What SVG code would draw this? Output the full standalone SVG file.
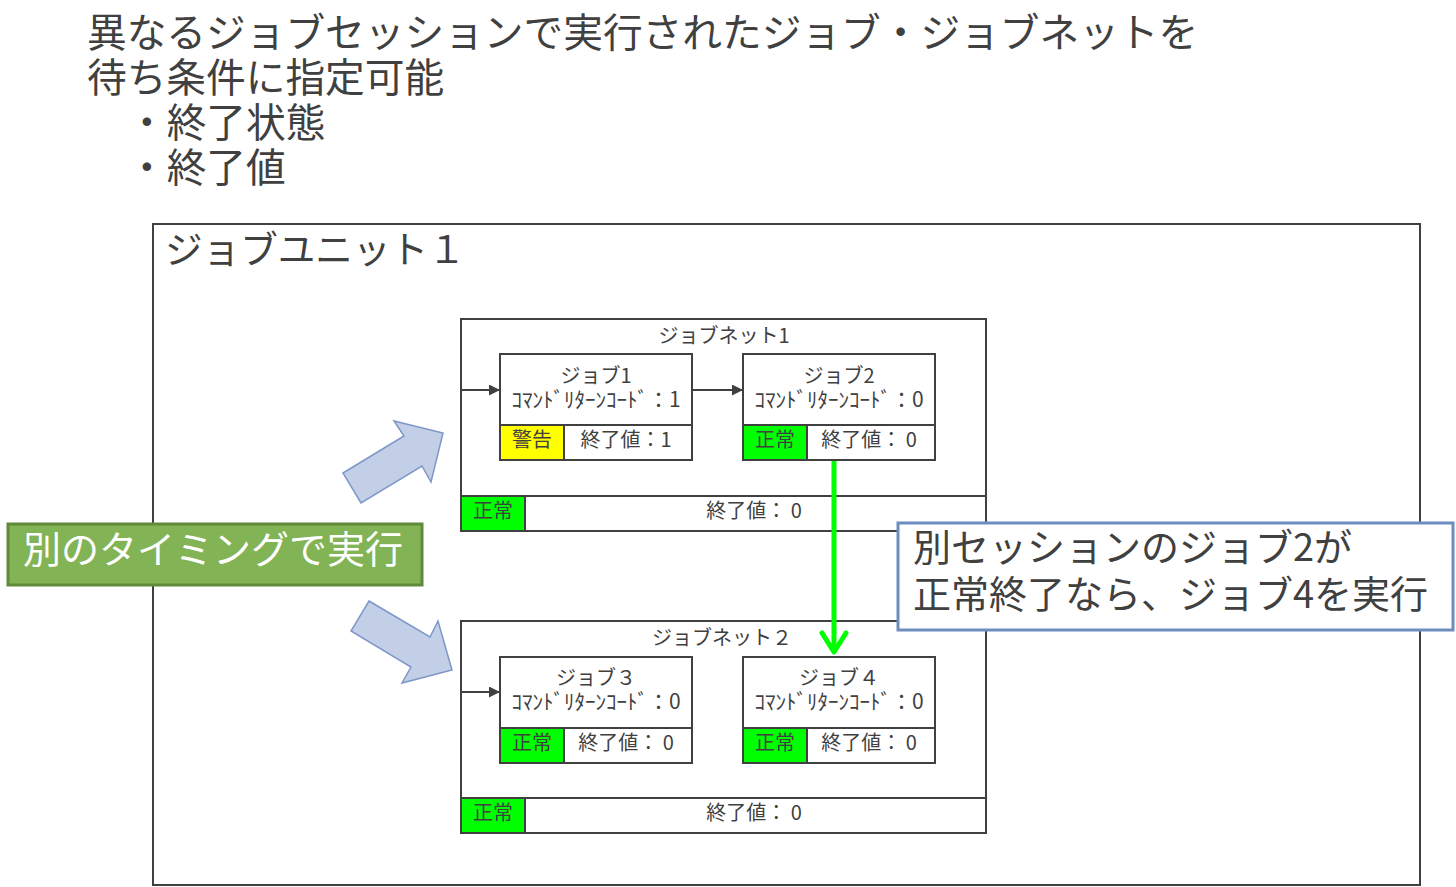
<svg xmlns="http://www.w3.org/2000/svg" width="1456" height="887" viewBox="0 0 1456 887">
<style>
text{font-family:"Noto Sans CJK JP","Noto Sans",sans-serif;fill:#404040}
.box{fill:#fff;stroke:#404040;stroke-width:2}
.ok{fill:#00ff00;stroke:#404040;stroke-width:2}
.warn{fill:#ffff00;stroke:#404040;stroke-width:2}
.s20{font-size:20px}
.cmd{font-size:21px}
.mid{text-anchor:middle}
.big{font-size:39.7px}
.lbl{font-size:38px}
.conn{stroke:#404040;stroke-width:2;fill:none}
.blk{fill:#c3cfe6;stroke:#7d97c9;stroke-width:1.5}
</style>
<defs>
<marker id="ah" markerUnits="userSpaceOnUse" markerWidth="11" markerHeight="11" refX="11" refY="5.5" orient="auto">
<path d="M0,0 L11,5.5 L0,11 z" fill="#404040"/>
</marker>
</defs>
<rect width="1456" height="887" fill="#fff"/>
<g id="title">
<text class="big" x="87" y="47">異なるジョブセッションで実行されたジョブ・ジョブネットを</text>
<text class="big" x="87" y="92">待ち条件に指定可能</text>
<text class="big" x="127" y="137">・終了状態</text>
<text class="big" x="127" y="182">・終了値</text>
</g>
<g id="jobunit1">
<rect class="box" x="153" y="224" width="1267" height="661"/>
<text x="165" y="263" style="font-size:37.6px">ジョブユニット１</text>
</g>
<g id="jobnet1">
<rect class="box" x="461" y="319" width="525" height="212"/>
<text class="s20 mid" x="724" y="343">ジョブネット1</text>
<rect class="box" x="461" y="496" width="525" height="35"/>
<rect class="ok" x="461" y="496" width="64" height="35"/>
<text class="s20 mid" x="493" y="518">正常</text>
<text class="s20 mid" x="754" y="518">終了値： 0</text>
</g>
<g id="job1">
<rect class="box" x="500" y="354" width="192" height="106"/>
<line x1="500" y1="425" x2="692" y2="425" stroke="#404040" stroke-width="2"/>
<text class="s20 mid" x="596" y="383">ジョブ1</text>
<text class="cmd mid" x="596" y="407">ｺﾏﾝﾄﾞﾘﾀｰﾝｺｰﾄﾞ：1</text>
<rect class="warn" x="500" y="425" width="64" height="35"/>
<text class="s20 mid" x="532" y="447">警告</text>
<text class="s20 mid" x="626" y="447">終了値：1</text>
</g>
<g id="job2">
<rect class="box" x="743" y="354" width="192" height="106"/>
<line x1="743" y1="425" x2="935" y2="425" stroke="#404040" stroke-width="2"/>
<text class="s20 mid" x="839" y="383">ジョブ2</text>
<text class="cmd mid" x="839" y="407">ｺﾏﾝﾄﾞﾘﾀｰﾝｺｰﾄﾞ：0</text>
<rect class="ok" x="743" y="425" width="64" height="35"/>
<text class="s20 mid" x="775" y="447">正常</text>
<text class="s20 mid" x="869" y="447">終了値： 0</text>
</g>
<g id="jobnet2">
<rect class="box" x="461" y="621" width="525" height="212"/>
<text class="s20 mid" x="722" y="645">ジョブネット２</text>
<rect class="box" x="461" y="798" width="525" height="35"/>
<rect class="ok" x="461" y="798" width="64" height="35"/>
<text class="s20 mid" x="493" y="820">正常</text>
<text class="s20 mid" x="754" y="820">終了値： 0</text>
</g>
<g id="job3">
<rect class="box" x="500" y="657" width="192" height="106"/>
<line x1="500" y1="728" x2="692" y2="728" stroke="#404040" stroke-width="2"/>
<text class="s20 mid" x="596" y="685">ジョブ３</text>
<text class="cmd mid" x="596" y="709">ｺﾏﾝﾄﾞﾘﾀｰﾝｺｰﾄﾞ：0</text>
<rect class="ok" x="500" y="728" width="64" height="35"/>
<text class="s20 mid" x="532" y="750">正常</text>
<text class="s20 mid" x="626" y="750">終了値： 0</text>
</g>
<g id="job4">
<rect class="box" x="743" y="657" width="192" height="106"/>
<line x1="743" y1="728" x2="935" y2="728" stroke="#404040" stroke-width="2"/>
<text class="s20 mid" x="839" y="685">ジョブ４</text>
<text class="cmd mid" x="839" y="709">ｺﾏﾝﾄﾞﾘﾀｰﾝｺｰﾄﾞ：0</text>
<rect class="ok" x="743" y="728" width="64" height="35"/>
<text class="s20 mid" x="775" y="750">正常</text>
<text class="s20 mid" x="869" y="750">終了値： 0</text>
</g>
<g id="connectors">
<line class="conn" x1="462" y1="390" x2="500" y2="390" marker-end="url(#ah)"/>
<line class="conn" x1="692" y1="390" x2="743" y2="390" marker-end="url(#ah)"/>
<line class="conn" x1="462" y1="692" x2="500" y2="692" marker-end="url(#ah)"/>
<line x1="834" y1="461" x2="834" y2="651" stroke="#00ff00" stroke-width="5"/>
<polyline points="822,633 834,652 846,633" fill="none" stroke="#00ff00" stroke-width="5" stroke-linecap="round" stroke-linejoin="round"/>
<polygon class="blk" points="343,473 404,436 394,421 443,433 431,482 422,466 361,503"/>
<polygon class="blk" points="369,601 430,637 438,621 452,670 402,683 411,667 351,631"/>
</g>
<g id="timing-label">
<rect x="8" y="524" width="414" height="61" fill="#82b354" stroke="#5e8a3a" stroke-width="3"/>
<text class="lbl" x="23" y="563" style="fill:#fff">別のタイミングで実行</text>
</g>
<g id="session-note">
<rect x="898" y="523" width="555" height="107" fill="#fff" stroke="#6c8ebf" stroke-width="3"/>
<text class="lbl" x="913" y="561">別セッションのジョブ2が</text>
<text class="lbl" x="913" y="608">正常終了なら、ジョブ4を実行</text>
</g>
</svg>
